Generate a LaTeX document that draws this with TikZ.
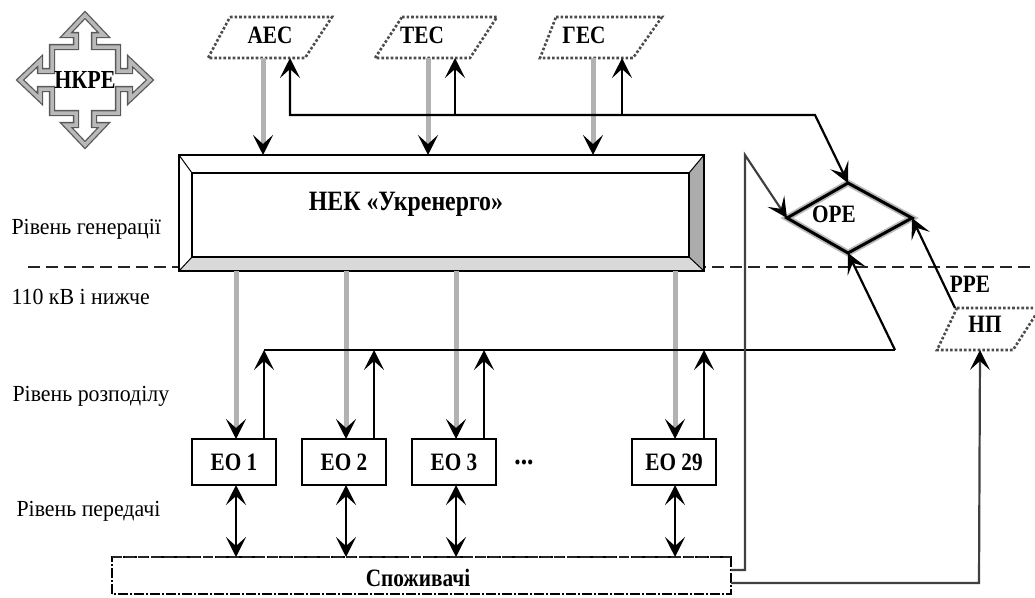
\documentclass[tikz,border=0pt]{standalone}
\usepackage{fontspec}
\setmainfont{Liberation Serif}
\newfontfamily\bfn{Liberation Serif Bold}[FakeStretch=0.85]
\newfontfamily\rgn{Liberation Serif}[FakeStretch=0.95]
\usetikzlibrary{arrows.meta,shapes.geometric,calc}
\begin{document}
\begin{tikzpicture}[x=1pt,y=-1pt,
  tip/.style={-{Stealth[length=20pt,width=20pt,inset=9pt,color=black]}},
  garr/.style={draw=gray!60,line width=5pt,tip},
  barr/.style={draw=black,line width=2.2pt,tip},
  bline/.style={draw=black,line width=2.2pt},
  dbl/.style={draw=black,line width=2.2pt,{Stealth[length=20pt,width=20pt,inset=9pt]}-{Stealth[length=20pt,width=20pt,inset=9pt]}},
  para/.style={draw=gray!60!black,line width=2.6pt,dotted},
  eobox/.style={draw=black,line width=2pt,minimum width=84pt,minimum height=46pt,inner sep=0pt,fill=white},
  btext/.style={font=\bfn\fontsize{25}{27}\selectfont},
  ltext/.style={font=\rgn\fontsize{23}{26}\selectfont,anchor=west}]
\useasboundingbox (0,0) rectangle (1035,597);

% level separator
\draw[gray!30!black,line width=2.2pt,dash pattern=on 12pt off 6pt] (28,267) -- (1035,267);

% NKRE cross arrow
\begin{scope}[shift={(85,80)}]
\draw[draw=black!65,line width=1.3pt,double=gray!55,double distance=3.5pt,fill=white]
 (-33,-33) -- (-9,-33) -- (-9,-45) -- (-19,-45) -- (0,-65) -- (19,-45) -- (9,-45) -- (9,-33)
 -- (33,-33) -- (33,-9) -- (45,-9) -- (45,-19) -- (65,0) -- (45,19) -- (45,9) -- (33,9)
 -- (33,33) -- (9,33) -- (9,45) -- (19,45) -- (0,65) -- (-19,45) -- (-9,45) -- (-9,33)
 -- (-33,33) -- (-33,9) -- (-45,9) -- (-45,19) -- (-65,0) -- (-45,-19) -- (-45,-9) -- (-33,-9) -- cycle;
\end{scope}
\node[btext,font=\bfn\fontsize{26}{28}\selectfont] (nkre) at (85,80) {НКРЕ};

% generators (parallelograms)
\draw[para] (230,17) -- (332,17) -- (305,58) -- (208,58) -- cycle;
\draw[para] (402,17) -- (497,17) -- (470,58) -- (375,58) -- cycle;
\draw[para] (556,17) -- (662,17) -- (633,58) -- (540,58) -- cycle;
\node[btext] (aes) at (270,35) {АЕС};
\node[btext] (tes) at (422,35) {ТЕС};
\node[btext] (ges) at (584,35) {ГЕС};
\coordinate (aesB) at (263,58);
\coordinate (aesU) at (290,58);
\coordinate (tesB) at (428,58);
\coordinate (tesU) at (455,58);
\coordinate (gesB) at (593,58);
\coordinate (gesU) at (622,58);

% NEK box (bevelled)
\coordinate (o1) at (179,155); \coordinate (o2) at (704,271);
\coordinate (i1) at (192,173); \coordinate (i2) at (689,257);
\fill[white] (179,155) rectangle (704,271);
\fill[gray!30] (179,271) -- (704,271) -- (689,257) -- (192,257) -- cycle;
\fill[gray!65] (704,155) -- (704,271) -- (689,257) -- (689,173) -- cycle;
\draw[line width=2pt] (179,155) rectangle (704,271);
\draw[line width=2pt] (192,173) rectangle (689,257);
\draw[line width=1pt] (179,155) -- (192,173) (704,155) -- (689,173) (704,271) -- (689,257) (179,271) -- (192,257);
\node[btext,font=\bfn\fontsize{28}{30}\selectfont] (nek) at (406,204) {НЕК «Укренерго»};

% ORE diamond
\coordinate (oreN) at (848,183);
\coordinate (oreW) at (787,218);
\coordinate (oreS) at (848,253);
\coordinate (oreE) at (912,218);
\draw[gray!55,line width=6.5pt,line join=miter] (oreN) -- (oreE) -- (oreS) -- (oreW) -- cycle;
\draw[black,line width=3pt,line join=miter] (oreN) -- (oreE) -- (oreS) -- (oreW) -- cycle;
\node[btext] (ore) at (834,214) {ОРЕ};

% NP parallelogram
\draw[para] (957,308) -- (1040,308) -- (1013,350) -- (937,350) -- cycle;
\node[btext] (np) at (985,324) {НП};
\node[btext] (rre) at (970,284) {РРЕ};
\coordinate (npTL) at (955,308);
\coordinate (npB) at (980,350);

% EO boxes
\node[eobox] (eo1) at (234,462) {};
\node[eobox] (eo2) at (344,462) {};
\node[eobox] (eo3) at (454,462) {};
\node[eobox] (eo29) at (674,462) {};
\node[btext] at (eo1) {ЕО 1};
\node[btext] at (eo2) {ЕО 2};
\node[btext] at (eo3) {ЕО 3};
\node[btext] at (eo29) {ЕО 29};
\node[btext,font=\bfn\fontsize{30}{32}\selectfont] (dots) at (524,462) {...};

% consumers box
\fill[white] (112,557) rectangle (731,594);
\draw[black,line width=1.2pt,dash pattern=on 10pt off 2pt on 2pt off 2pt] (112,594) -- (112,557) -- (731,557) -- (731,594) -- cycle;
\draw[gray!30!black,line width=2.8pt,dash pattern=on 10pt off 3pt] (112,557) -- (731,557);
\node[btext] (cons) at (418,578) {Споживачі};
\coordinate (consR1) at (731,570);
\coordinate (consR2) at (731,583);

% generator arrows
\draw[garr] (aesB) -- (aesB |- o1);
\draw[garr] (tesB) -- (tesB |- o1);
\draw[garr] (gesB) -- (gesB |- o1);
\coordinate (busL) at (290,115);
\coordinate (busR) at (815,115);
\draw[bline,{Stealth[length=20pt,width=20pt,inset=9pt]}-{Stealth[length=20pt,width=20pt,inset=9pt]}] (aesU) -- (busL) -- (busR) -- (oreN);
\draw[barr] (tesU |- busL) -- (tesU);
\draw[barr] (gesU |- busL) -- (gesU);

% NEK to EO (gray)
\foreach \x in {236,346,456,675}{
  \draw[garr] (\x,271) -- (\x,439);
}
% EO up to bus
\coordinate (bus2L) at (264,350);
\coordinate (bus2R) at (895,350);
\draw[bline] (bus2L) -- (bus2R);
\foreach \x in {264,374,484,704}{
  \draw[barr] (\x,439) -- (\x,350);
}
\draw[barr] (bus2R) -- (oreS);

% EO to consumers
\foreach \x in {236,346,456,675}{
  \draw[dbl] (\x,485) -- (\x,557);
}

% consumers to ORE and NP
\draw[barr,draw=black!75] (consR1) -- (745,570) -- (745,155) -- (oreW);
\draw[barr,draw=black!75] (consR2) -- (979,583) -- (npB);
\draw[barr] (npTL) -- (oreE);

% left level labels
\node[ltext] (l1) at (8,229) {Рівень генерації};
\node[ltext] (l2) at (8,297) {110 кВ і нижче};
\node[ltext] (l3) at (9,396) {Рівень розподілу};
\node[ltext] (l4) at (13,511) {Рівень передачі};
\end{tikzpicture}
\end{document}
